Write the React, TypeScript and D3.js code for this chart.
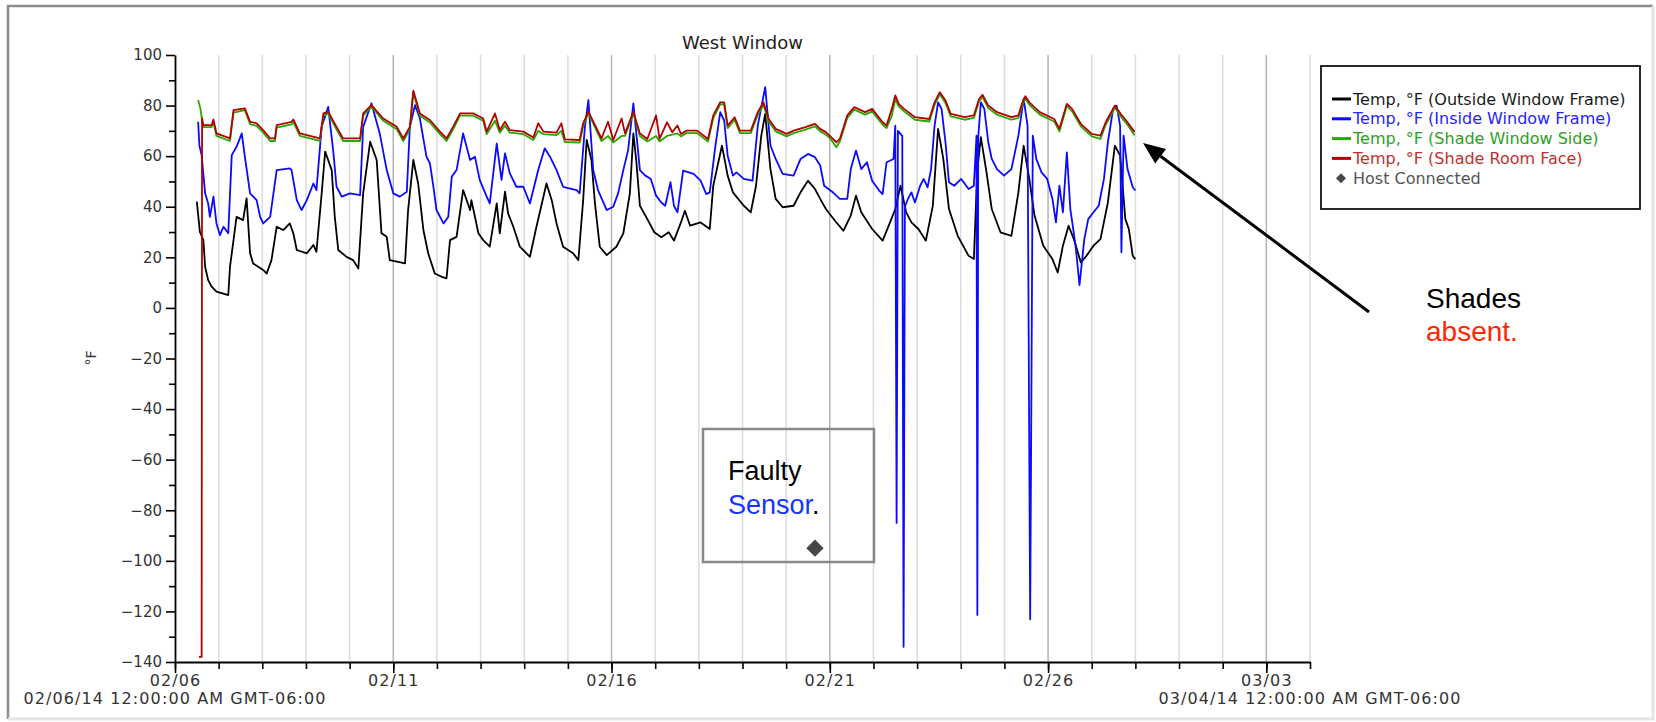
import React, { useEffect, useRef } from 'react';
import * as d3 from 'd3';

type Pt = [number, number];

// [days after 02/06/14 00:00, °F]
const outsideFrame: Pt[] = [[0.50,42],[0.57,30.1],[0.65,26.8],[0.69,16.3],[0.76,11],[0.84,8.4],[0.95,6.4],[1.22,5.1],[1.26,16.3],[1.34,26.8],[1.41,36],[1.56,34.7],[1.64,43.3],[1.72,21.6],[1.79,17.6],[2.02,15],[2.10,13.6],[2.21,18.9],[2.33,32.1],[2.48,30.8],[2.63,33.4],[2.71,29.5],[2.79,22.9],[3.02,21.6],[3.17,24.9],[3.24,22.2],[3.36,45.3],[3.44,61.8],[3.59,54.5],[3.66,36],[3.74,22.9],[3.93,20.2],[4.08,18.9],[4.20,15.6],[4.31,45.3],[4.47,65.7],[4.62,58.5],[4.73,29.5],[4.85,28.1],[4.92,18.9],[5.27,17.6],[5.34,38.7],[5.46,58.5],[5.57,49.2],[5.69,30.8],[5.80,21.6],[5.95,13.6],[6.11,12.3],[6.22,11.7],[6.30,26.8],[6.45,28.1],[6.60,46.6],[6.76,38.7],[6.79,42.6],[6.95,29.5],[7.06,26.8],[7.21,24.2],[7.37,41.3],[7.44,29.5],[7.56,46],[7.63,37.4],[7.75,32.1],[7.90,24.2],[8.13,20.2],[8.28,32.1],[8.51,49.2],[8.63,42.6],[8.74,33.4],[8.89,24.2],[9.12,21.6],[9.24,18.9],[9.35,42.6],[9.43,66.4],[9.54,58.5],[9.62,41.3],[9.73,24.2],[9.89,20.9],[10.11,24.2],[10.27,29.5],[10.42,45.3],[10.50,69],[10.57,57.6],[10.65,40.4],[10.82,35.1],[10.98,29.9],[11.14,27.9],[11.31,29.9],[11.43,26.6],[11.59,33.8],[11.68,38.4],[11.80,32.5],[12.04,33.8],[12.25,31.2],[12.33,48.3],[12.53,64.2],[12.66,52.3],[12.78,45.7],[13.03,40.4],[13.19,37.8],[13.31,48.3],[13.43,68.1],[13.52,76.7],[13.64,54.9],[13.76,43.1],[13.92,39.8],[14.17,40.4],[14.33,45.7],[14.50,50.3],[14.66,47],[14.78,43.1],[14.91,39.1],[15.15,33.8],[15.31,30.5],[15.48,36.5],[15.60,44.4],[15.72,37.8],[15.97,31.2],[16.21,26.6],[16.38,33.8],[16.50,39.1],[16.62,48.3],[16.75,37.8],[16.87,33.8],[17.03,31.2],[17.20,26.6],[17.36,40.4],[17.48,70.8],[17.60,58.9],[17.73,39.1],[17.93,28.5],[18.18,20.6],[18.30,19.3],[18.38,54.9],[18.46,67.5],[18.59,53.6],[18.71,39.1],[18.91,29.9],[19.16,28.5],[19.32,45.7],[19.44,64.2],[19.57,51],[19.69,36.5],[19.89,24.6],[20.10,19.3],[20.22,14],[20.34,24.6],[20.47,32.5],[20.59,27.2],[20.75,18],[20.88,20.6],[21.04,24.6],[21.20,27.2],[21.37,41.7],[21.53,64.2],[21.65,60.2],[21.77,35.1],[21.85,31.2],[21.94,20.6],[22.00,19.3]];

const insideFrame: Pt[] = [[0.53,73.6],[0.56,64],[0.61,60.4],[0.69,45.3],[0.76,41.3],[0.80,36],[0.88,44],[0.95,33.4],[1.03,28.8],[1.11,32.1],[1.22,29.5],[1.30,60.4],[1.41,63.7],[1.53,69],[1.60,59.8],[1.72,45.3],[1.87,42.6],[1.95,36],[2.02,33.4],[2.18,36],[2.33,54.5],[2.63,55.2],[2.67,54.5],[2.79,42.6],[2.90,38.7],[3.02,42.6],[3.17,49.2],[3.24,46.6],[3.36,71.6],[3.51,79.5],[3.63,61.1],[3.70,47.9],[3.82,44],[4.01,45.3],[4.24,44.6],[4.31,71.6],[4.50,80.9],[4.69,69],[4.85,54.5],[5.00,45.3],[5.15,44],[5.31,45.9],[5.38,71.6],[5.50,80.2],[5.61,74.9],[5.76,59.8],[5.84,57.1],[5.92,47.9],[5.99,38.7],[6.15,33.4],[6.26,36],[6.34,51.9],[6.45,54.5],[6.60,69],[6.76,58.5],[6.87,59.8],[6.98,50.6],[7.14,44],[7.21,41.3],[7.37,65],[7.48,50.6],[7.56,61.1],[7.67,53.2],[7.82,47.9],[7.98,47.9],[8.13,41.3],[8.32,54.5],[8.47,63.1],[8.59,59.8],[8.74,54.5],[8.89,47.9],[9.20,46.6],[9.27,45.3],[9.39,71.6],[9.47,82.2],[9.58,54.5],[9.69,46.6],[9.89,38.7],[10.04,40],[10.15,45.3],[10.27,54.5],[10.38,62.4],[10.50,80.9],[10.65,54.5],[10.76,52.5],[10.90,51],[11.02,44.4],[11.14,41.7],[11.23,40.4],[11.35,49.7],[11.43,40.4],[11.51,37.8],[11.64,54.3],[11.88,53],[12.04,50.3],[12.17,45],[12.25,45.7],[12.37,62.9],[12.49,77.4],[12.58,74.1],[12.66,60.2],[12.78,52.3],[12.86,53.6],[13.03,51],[13.23,50.3],[13.35,72.1],[13.52,87.3],[13.64,64.2],[13.76,58.9],[13.92,53],[14.17,52.3],[14.33,58.9],[14.50,60.9],[14.66,59.6],[14.78,56.3],[14.87,48.3],[15.07,45.7],[15.23,43.1],[15.40,43.1],[15.48,54.9],[15.60,62.2],[15.72,54.9],[15.85,57.6],[15.97,50.3],[16.13,46.4],[16.21,45],[16.30,57.6],[16.46,58.9],[16.50,72.1],[16.53,-85],[16.56,70],[16.66,68],[16.69,-134],[16.72,40],[16.79,43.1],[16.87,45.7],[16.95,41.7],[17.07,48.3],[17.15,51],[17.24,47.7],[17.32,54.9],[17.40,72.1],[17.48,81.3],[17.56,78.7],[17.65,65.5],[17.73,49.7],[17.85,48.3],[18.01,51],[18.18,47],[18.30,48.3],[18.36,68.1],[18.38,-121.4],[18.40,67.5],[18.46,81.3],[18.54,78.7],[18.63,65.5],[18.71,58.9],[18.83,54.9],[18.99,52.3],[19.16,54.9],[19.32,68.1],[19.44,82.7],[19.53,72.1],[19.59,-123.1],[19.65,68.1],[19.73,58.9],[19.85,53.6],[19.98,51],[20.10,43.1],[20.18,33.8],[20.26,48.3],[20.34,37.8],[20.43,61.5],[20.51,39.1],[20.63,24.6],[20.72,9],[20.83,27.2],[20.92,35.1],[21.04,37.8],[21.16,40.4],[21.28,51],[21.37,65.5],[21.49,78.7],[21.57,80],[21.65,72.1],[21.68,22],[21.73,68.1],[21.82,54.9],[21.94,47.7],[22.00,46.4]];

const shadeWindowSide: Pt[] = [[0.53,82.2],[0.58,79],[0.63,73],[0.65,71.5],[0.84,71.5],[0.88,73.5],[0.95,68],[1.26,66],[1.34,77.2],[1.60,78.2],[1.72,72.6],[1.87,72],[2.02,69.3],[2.18,66],[2.29,66],[2.33,71.3],[2.67,72.6],[2.71,73.5],[2.86,68],[3.32,66],[3.40,76],[3.51,76.8],[3.70,70.6],[3.85,66],[4.24,66],[4.31,76],[4.50,79.6],[4.77,74],[5.08,70.6],[5.23,66],[5.38,70.6],[5.46,85.2],[5.61,76],[5.84,73.3],[6.07,68.7],[6.22,66],[6.37,70.6],[6.53,76],[6.83,76],[7.06,74],[7.14,68.7],[7.33,74],[7.44,69.3],[7.56,72],[7.67,69.3],[7.98,68.7],[8.21,66.4],[8.32,70],[8.44,68.7],[8.74,68.3],[8.85,70],[8.93,65.6],[9.27,65.4],[9.35,72],[9.47,77],[9.77,66],[9.92,68],[10.04,65.4],[10.23,68],[10.31,68],[10.50,77],[10.65,68],[10.82,65.8],[11.02,68],[11.10,65.8],[11.27,68],[11.39,68.5],[11.51,69],[11.59,67.8],[11.72,69.1],[11.96,69.1],[12.21,65.8],[12.33,75.1],[12.49,80.5],[12.58,80.5],[12.66,71.1],[12.82,74.4],[12.94,69.1],[13.19,69.1],[13.35,76.4],[13.48,80.3],[13.60,73.7],[13.76,69.8],[14.01,67.8],[14.17,69.1],[14.42,70.4],[14.66,71.8],[14.78,69.8],[14.91,68.5],[15.03,66.5],[15.15,63.5],[15.23,65.8],[15.40,75.1],[15.56,78.4],[15.81,76.4],[15.97,77.7],[16.21,72.4],[16.30,71.1],[16.42,76],[16.50,82.5],[16.58,79.7],[16.70,77.7],[16.95,74.4],[17.28,73.7],[17.40,80.3],[17.52,84.5],[17.65,81],[17.77,75.7],[18.09,74.4],[18.30,75.1],[18.42,81.7],[18.50,83.4],[18.63,79],[18.83,76.4],[19.16,74.4],[19.32,75.1],[19.40,79.7],[19.48,82.9],[19.57,80.3],[19.81,76.4],[20.14,73.7],[20.26,69.8],[20.43,79.9],[20.55,77.7],[20.75,71.8],[21.00,67.8],[21.20,66.8],[21.32,72.4],[21.53,79.2],[21.69,75.1],[21.82,72.4],[21.98,68.3]];

const shadeRoomFace: Pt[] = [[0.55,-138],[0.61,-138],[0.62,75],[0.65,72.3],[0.84,72.3],[0.88,74.5],[0.95,69],[1.26,67],[1.34,78.2],[1.60,78.9],[1.72,73.6],[1.87,73],[2.02,70.3],[2.18,67],[2.29,67],[2.33,72.3],[2.67,73.6],[2.71,74.5],[2.86,69],[3.32,67],[3.40,76.9],[3.51,77.6],[3.70,71.6],[3.85,67],[4.24,67],[4.31,76.9],[4.50,80.2],[4.77,74.9],[5.08,71.6],[5.23,67],[5.38,71.6],[5.46,85.9],[5.61,76.9],[5.84,74.3],[6.07,69.7],[6.22,67],[6.37,71.6],[6.53,76.9],[6.83,76.9],[7.06,74.9],[7.14,69.7],[7.33,76.9],[7.44,70.3],[7.56,73.6],[7.67,70.3],[7.98,69.7],[8.21,67.4],[8.32,73],[8.44,69.7],[8.74,69.3],[8.85,73],[8.93,66.6],[9.27,66.4],[9.35,73],[9.47,77.6],[9.77,67],[9.92,73.6],[10.04,66.4],[10.23,74.9],[10.31,69],[10.50,77.6],[10.65,69],[10.82,66.8],[11.02,76.1],[11.10,66.8],[11.27,73.4],[11.39,69.5],[11.51,72.1],[11.59,68.8],[11.72,70.1],[11.96,70.1],[12.21,66.8],[12.33,76.1],[12.49,81.3],[12.58,81.3],[12.66,72.1],[12.82,75.4],[12.94,70.1],[13.19,70.1],[13.35,77.4],[13.48,81.3],[13.60,74.7],[13.76,70.8],[14.01,68.8],[14.17,70.1],[14.42,71.4],[14.66,72.8],[14.78,70.8],[14.91,69.5],[15.03,67.5],[15.15,65.5],[15.23,66.8],[15.40,76.1],[15.56,79.4],[15.81,77.4],[15.97,78.7],[16.21,73.4],[16.30,72.1],[16.42,78.7],[16.50,84],[16.58,80.7],[16.70,78.7],[16.95,75.4],[17.28,74.7],[17.40,81.3],[17.52,85.3],[17.65,82],[17.77,76.7],[18.09,75.4],[18.30,76.1],[18.42,82.7],[18.50,84.2],[18.63,80],[18.83,77.4],[19.16,75.4],[19.32,76.1],[19.40,80.7],[19.48,83.7],[19.57,81.3],[19.81,77.4],[20.14,74.7],[20.26,70.8],[20.43,80.7],[20.55,78.7],[20.75,72.8],[21.00,68.8],[21.20,68.1],[21.32,73.4],[21.53,80],[21.69,76.1],[21.82,73.4],[21.98,69.5]];

const hostConnected: Pt[] = [[14.66, -95]];

const seriesNames = [
  'Temp, °F (Outside Window Frame)',
  'Temp, °F (Inside Window Frame)',
  'Temp, °F (Shade Window Side)',
  'Temp, °F (Shade Room Face)',
];
const seriesColors = ['#000000', '#0a0aff', '#29a800', '#b30000'];
const legendTextColors = ['#1a1a1a', '#2323ff', '#2e9e1e', '#c22f2f'];
const yTickValues = [-140, -120, -100, -80, -60, -40, -20, 0, 20, 40, 60, 80, 100];
const startLabel = '02/06/14 12:00:00 AM GMT-06:00';
const endLabel = '03/04/14 12:00:00 AM GMT-06:00';

const W = 1656;
const H = 722;
const DAY = 864e5;
const t0 = Date.UTC(2014, 1, 6);
const t1 = Date.UTC(2014, 2, 4);

const App = () => {
  const ref = useRef<SVGSVGElement>(null);

  useEffect(() => {
    const svg = d3.select(ref.current);
    svg.selectAll('*').remove();
    const font = "'DejaVu Sans', sans-serif";

    const x = d3.scaleUtc().domain([t0, t1]).range([175, 1310]);
    const y = d3.scaleLinear().domain([-140, 100]).range([662, 55]);
    const toDate = (d: number) => new Date(t0 + d * DAY);

    svg.append('rect').attr('width', W).attr('height', H).attr('fill', '#fff');

    // page frame
    svg.append('path').attr('d', `M8,${H - 3}V6H${W - 3}`).attr('fill', 'none')
      .attr('stroke', '#8c8c8c').attr('stroke-width', 2.5);
    svg.append('path').attr('d', `M8,${H - 3}H${W - 3}V6`).attr('fill', 'none')
      .attr('stroke', '#e4e4e4').attr('stroke-width', 3);

    // day gridlines
    const days = d3.utcDay.range(new Date(t0), new Date(t1 + 1));
    svg.append('g').selectAll('line').data(days.slice(1)).join('line')
      .attr('x1', (d) => x(d)).attr('x2', (d) => x(d))
      .attr('y1', y(100)).attr('y2', y(-140))
      .attr('stroke', (d, i) => ((i + 1) % 5 === 0 ? '#b4b4b4' : '#dcdcdc'))
      .attr('stroke-width', 1.5);

    // series
    const line = d3.line<Pt>().x((d) => x(toDate(d[0]))).y((d) => y(d[1]));
    [outsideFrame, insideFrame, shadeWindowSide, shadeRoomFace].forEach((s, i) => {
      svg.append('path').datum(s).attr('d', line).attr('fill', 'none')
        .attr('stroke', seriesColors[i]).attr('stroke-width', 1.8)
        .attr('stroke-linejoin', 'round');
    });

    const diamond = (size: number) => d3.symbol(d3.symbolSquare, size)();
    svg.append('g').selectAll('path').data(hostConnected).join('path')
      .attr('d', diamond(150))
      .attr('transform', (d) => `translate(${x(toDate(d[0]))},${y(d[1])}) rotate(45)`)
      .attr('fill', '#474747');

    // y axis
    const yAxis = svg.append('g').attr('transform', `translate(${x(t0)},0)`)
      .call(d3.axisLeft(y).tickValues(yTickValues).tickSize(9).tickSizeOuter(0).tickPadding(4));
    svg.append('g').attr('transform', `translate(${x(t0)},0)`)
      .call(d3.axisLeft(y).tickValues(yTickValues.slice(1).map((v) => v - 10)).tickSize(6).tickFormat(() => ''))
      .select('.domain').remove();

    // x axis
    const xAxis = svg.append('g').attr('transform', `translate(0,${y(-140)})`)
      .call(d3.axisBottom(x).tickValues(days).tickSize(7).tickSizeOuter(0).tickFormat(() => ''));
    const xMajor = svg.append('g').attr('transform', `translate(0,${y(-140)})`)
      .call(d3.axisBottom(x).tickValues(days.filter((d, i) => i % 5 === 0)).tickSize(11)
        .tickPadding(2).tickFormat(d3.utcFormat('%m/%d') as any));
    xMajor.select('.domain').remove();

    svg.selectAll('.domain, .tick line').attr('stroke', '#000').attr('stroke-width', 1.6);
    svg.selectAll('.tick text').attr('font-family', font).attr('font-size', 15).attr('fill', '#333');
    xMajor.selectAll('.tick text').attr('font-size', 16).attr('letter-spacing', 1.1);
    yAxis.select('.domain').attr('stroke-width', 1.8);
    xAxis.select('.domain').attr('stroke-width', 1.8);

    [[t0, startLabel], [t1, endLabel]].forEach(([t, label]) => {
      svg.append('text').attr('x', x(t as number)).attr('y', 704).attr('text-anchor', 'middle')
        .attr('font-family', font).attr('font-size', 16).attr('letter-spacing', 1.1)
        .attr('fill', '#333').text(label as string);
    });

    svg.append('text').attr('transform', 'translate(96,358) rotate(-90)').attr('text-anchor', 'middle')
      .attr('font-family', font).attr('font-size', 14).attr('fill', '#333').text('°F');

    svg.append('text').attr('x', (x(t0) + x(t1)) / 2).attr('y', 49).attr('text-anchor', 'middle')
      .attr('font-family', font).attr('font-size', 18).attr('fill', '#222').text('West Window');

    // legend
    const lg = svg.append('g');
    lg.append('rect').attr('x', 1321).attr('y', 66).attr('width', 319).attr('height', 143)
      .attr('fill', '#fff').attr('stroke', '#111').attr('stroke-width', 1.8);
    seriesNames.forEach((name, i) => {
      const cy = 99 + i * 19.8;
      lg.append('line').attr('x1', 1332).attr('x2', 1351).attr('y1', cy).attr('y2', cy)
        .attr('stroke', seriesColors[i]).attr('stroke-width', 3);
      lg.append('text').attr('x', 1353).attr('y', cy + 5.5).attr('font-family', font)
        .attr('font-size', 16).attr('fill', legendTextColors[i]).text(name);
    });
    lg.append('path').attr('d', diamond(50)).attr('transform', `translate(1341,${99 + 4 * 19.8}) rotate(45)`)
      .attr('fill', '#474747');
    lg.append('text').attr('x', 1353).attr('y', 99 + 4 * 19.8 + 5.5).attr('font-family', font)
      .attr('font-size', 16).attr('fill', '#555').text('Host Connected');

    // annotations
    const sans = "'Liberation Sans', Arial, sans-serif";
    svg.append('rect').attr('x', 703).attr('y', 429).attr('width', 171).attr('height', 133)
      .attr('fill', 'none').attr('stroke', '#888').attr('stroke-width', 2.5);
    svg.append('text').attr('x', 728).attr('y', 480).attr('font-family', sans).attr('font-size', 27)
      .attr('fill', '#000').text('Faulty');
    const t2 = svg.append('text').attr('x', 728).attr('y', 514).attr('font-family', sans).attr('font-size', 27);
    t2.append('tspan').attr('fill', '#1536ff').text('Sensor');
    t2.append('tspan').attr('fill', '#000').text('.');

    svg.append('text').attr('x', 1426).attr('y', 308).attr('font-family', sans).attr('font-size', 28)
      .attr('fill', '#000').text('Shades');
    svg.append('text').attr('x', 1426).attr('y', 341).attr('font-family', sans).attr('font-size', 28)
      .attr('fill', '#ff2600').text('absent.');

    // arrow
    const tail = [1369, 312];
    const tip = [1143, 143];
    const len = Math.hypot(tip[0] - tail[0], tip[1] - tail[1]);
    const ux = (tip[0] - tail[0]) / len;
    const uy = (tip[1] - tail[1]) / len;
    const bx = tip[0] - ux * 22;
    const by = tip[1] - uy * 22;
    svg.append('line').attr('x1', tail[0]).attr('y1', tail[1]).attr('x2', bx).attr('y2', by)
      .attr('stroke', '#000').attr('stroke-width', 3);
    svg.append('path')
      .attr('d', `M${tip[0]},${tip[1]}L${bx - uy * 9},${by + ux * 9}L${bx + uy * 9},${by - ux * 9}Z`)
      .attr('fill', '#000');
  }, []);

  return (
    <svg ref={ref} width={W} height={H} style={{ position: 'absolute', left: 0, top: 0 }} />
  );
};

export default App;
